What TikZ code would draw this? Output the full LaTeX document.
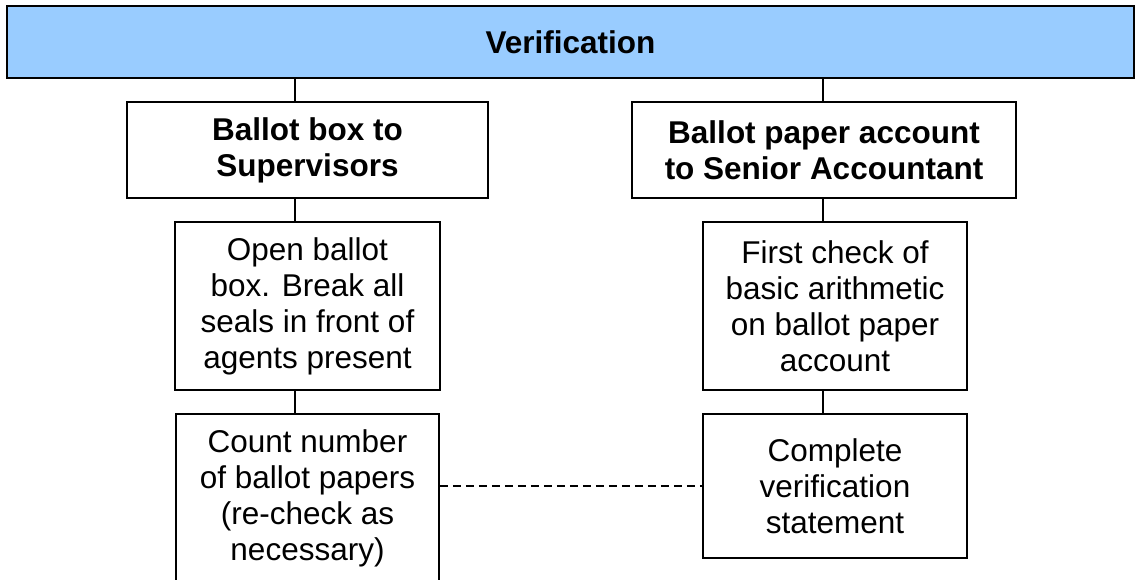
\documentclass[tikz,border=0pt]{standalone}
\usepackage{fontspec}
\setmainfont{Liberation Sans}
\usetikzlibrary{positioning, calc}
\definecolor{barblue}{RGB}{153,204,255}
\tikzset{
  box/.style={draw, line width=1.6pt, fill=white, inner sep=0pt, align=center, font=\fontsize{31.5}{36}\selectfont},
  head/.style={box, font=\bfseries\fontsize{31.5}{36}\selectfont},
  link/.style={line width=1.3pt},
}

\begin{document}
\begin{tikzpicture}[x=1pt, y=-1pt]
      \useasboundingbox (0,0) rectangle (1135,580);
      \node[head, fill=barblue, minimum width=1127pt, minimum height=72pt] (verif) at (570.5,42) {Verification};
      \node[head, minimum width=361pt, minimum height=96pt] (lsup) at (307.5,150) {Ballot box to\\Supervisors};
      \node[head, minimum width=384pt, minimum height=96pt] (rsen) at (824,150) {Ballot paper account\\to Senior Accountant};
      \node[box, minimum width=265pt, minimum height=168pt] (lopen) at (307.5,306) {Open ballot\\box. Break all\\seals in front of\\agents present};
      \node[box, minimum width=264pt, minimum height=168pt] (rfirst) at (835,306) {First check of\\basic arithmetic\\on ballot paper\\account};
      \node[box, minimum width=263pt, minimum height=168pt] (lcount) at (307.5,498) {Count number\\of ballot papers\\(re-check as\\necessary)};
      \node[box, minimum width=264pt, minimum height=144pt] (rcomp) at (835,486) {Complete\\verification\\statement};
      \coordinate (lcol) at (295,0);
      \coordinate (rcol) at (823,0);

      \draw[link] (verif.south -| lcol) -- (lsup.north -| lcol);
      \draw[link] (lsup.south -| lcol) -- (lopen.north -| lcol);
      \draw[link] (lopen.south -| lcol) -- (lcount.north -| lcol);
      \draw[link] (verif.south -| rcol) -- (rsen.north -| rcol);
      \draw[link] (rsen.south -| rcol) -- (rfirst.north -| rcol);
      \draw[link] (rfirst.south -| rcol) -- (rcomp.north -| rcol);
      \draw[link, dash pattern=on 8pt off 5pt] (rcomp.west -| lcount.east) -- (rcomp.west);
    \end{tikzpicture}
\end{document}
